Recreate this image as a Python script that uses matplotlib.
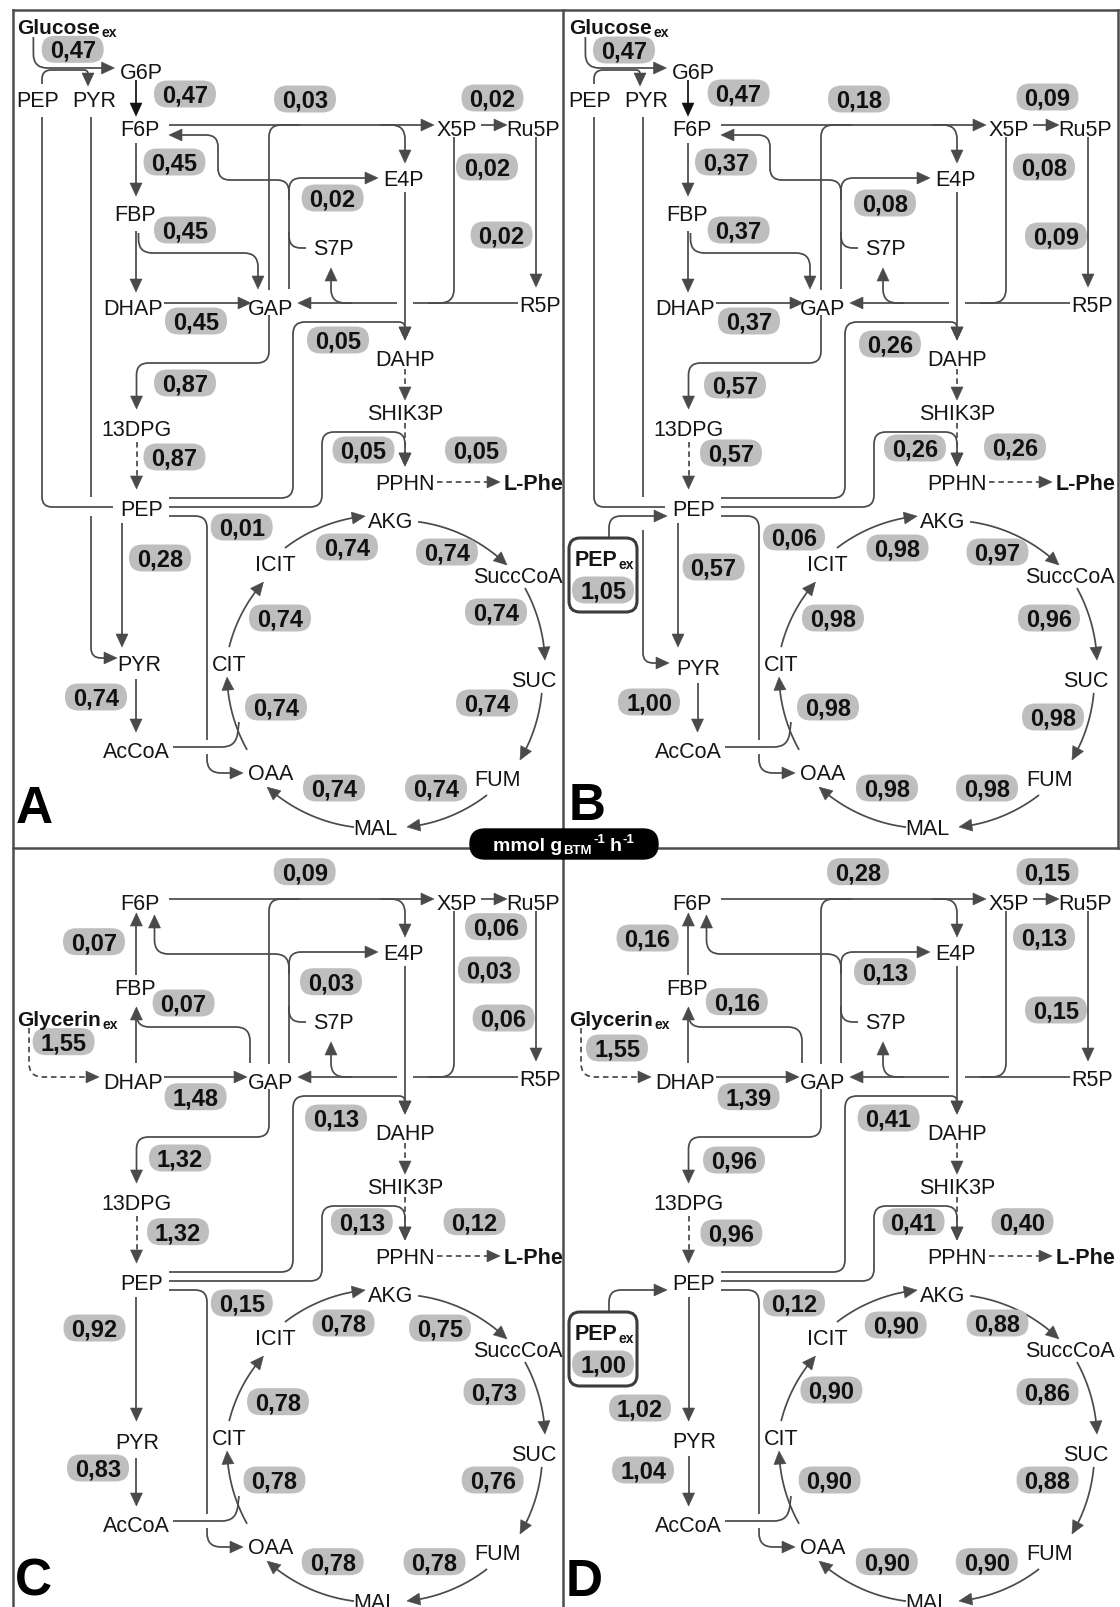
import numpy as np
import matplotlib
matplotlib.use("Agg")
import matplotlib.pyplot as plt
from matplotlib import font_manager
from matplotlib.path import Path
from matplotlib.patches import PathPatch, Polygon, FancyBboxPatch

# ---------------- flux data (mmol g_BTM^-1 h^-1) ----------------
glucose_reactions = ["glc_uptake", "pgi", "tkt_a", "rpe", "pfk", "tkt_b", "tal", "fba", "rpi", "tpi",
                     "dahps", "gapdh", "pgk", "pdt", "phe_out", "ppc", "pyk", "pdh",
                     "cs", "acn", "icd", "kgdh", "sucCD", "sdh", "fum", "mdh"]
flux_A = [0.47, 0.47, 0.03, 0.02, 0.45, 0.02, 0.02, 0.45, 0.02, 0.45,
          0.05, 0.87, 0.87, 0.05, 0.05, 0.01, 0.28, 0.74,
          0.74, 0.74, 0.74, 0.74, 0.74, 0.74, 0.74, 0.74]
flux_B = [0.47, 0.47, 0.18, 0.09, 0.37, 0.08, 0.08, 0.37, 0.09, 0.37,
          0.26, 0.57, 0.57, 0.26, 0.26, 0.06, 0.57, 1.00,
          0.98, 0.98, 0.98, 0.97, 0.96, 0.98, 0.98, 0.98]

glycerol_reactions = ["gly_uptake", "tkt_a", "rpe", "fbp", "tkt_b", "tal", "fba", "rpi", "tpi",
                      "dahps", "gapdh", "pgk", "pdt", "phe_out", "ppc", "pyk", "pdh",
                      "cs", "acn", "icd", "kgdh", "sucCD", "sdh", "fum", "mdh"]
flux_C = [1.55, 0.09, 0.06, 0.07, 0.03, 0.03, 0.07, 0.06, 1.48,
          0.13, 1.32, 1.32, 0.13, 0.12, 0.15, 0.92, 0.83,
          0.78, 0.78, 0.78, 0.75, 0.73, 0.76, 0.78, 0.78]
flux_D = [1.55, 0.28, 0.15, 0.16, 0.13, 0.13, 0.16, 0.15, 1.39,
          0.41, 0.96, 0.96, 0.41, 0.40, 0.12, 1.02, 1.04,
          0.90, 0.90, 0.90, 0.88, 0.86, 0.88, 0.90, 0.90]

pep_uptake_B = 1.05
pep_uptake_D = 1.00

# ---------------- label placement (pixels) ----------------
labels_A = {"glc_uptake": (72.7, 49.3), "pgi": (185, 94), "tkt_a": (305, 99), "rpe": (492.5, 98),
            "pfk": (174.5, 162), "tkt_b": (487, 167), "tal": (332.6, 198), "fba": (185, 230),
            "rpi": (501.6, 235), "tpi": (196, 321), "dahps": (338, 340), "gapdh": (185, 383),
            "pgk": (174.5, 457), "pdt": (363.5, 450), "phe_out": (476, 450), "ppc": (241.7, 527),
            "pyk": (160, 558), "pdh": (96, 697), "icd": (347, 547), "kgdh": (447, 552),
            "acn": (280, 618), "sucCD": (496, 612), "cs": (276, 707), "sdh": (487, 703),
            "mdh": (334, 788), "fum": (436, 788)}
labels_B = {"glc_uptake": (624, 50), "pgi": (738.6, 93), "tkt_a": (859, 99), "rpe": (1047.5, 97),
            "pfk": (726, 162), "tkt_b": (1044, 167), "tal": (885, 203), "fba": (738.6, 230),
            "rpi": (1056, 236), "tpi": (749, 321), "dahps": (890, 344), "gapdh": (735, 385),
            "pgk": (731, 453), "pdt": (915, 448), "phe_out": (1015, 447), "ppc": (794, 537),
            "pyk": (713.6, 567), "pdh": (649, 702), "icd": (897.5, 548), "kgdh": (997.5, 552),
            "acn": (833, 618), "sucCD": (1049, 618), "cs": (828, 707), "sdh": (1053, 717),
            "mdh": (887, 788), "fum": (987, 788)}
labels_C = {"gly_uptake": (63.6, 1041.7), "tkt_a": (304.7, 871.7), "rpe": (496, 926.7),
            "fbp": (94, 941.7), "tkt_b": (489, 970), "tal": (331, 981.7), "fba": (183.6, 1003),
            "rpi": (503.6, 1018), "tpi": (195.6, 1096.7), "dahps": (336, 1118), "gapdh": (180, 1158),
            "pgk": (178, 1231.7), "pdt": (361.8, 1221.7), "phe_out": (474.5, 1221.7),
            "ppc": (241.8, 1303), "pyk": (94.5, 1328), "pdh": (98, 1468), "icd": (343.6, 1323),
            "kgdh": (440, 1328), "acn": (278, 1401.7), "sucCD": (494.5, 1391.7), "cs": (274.5, 1480),
            "sdh": (492.7, 1480), "mdh": (332.7, 1561.7), "fum": (434.5, 1561.7)}
labels_D = {"gly_uptake": (617, 1048), "tkt_a": (858, 871.7), "rpe": (1047.5, 871.7),
            "fbp": (647.5, 938), "tkt_b": (1044, 937), "tal": (885, 971.7), "fba": (736.8, 1001.7),
            "rpi": (1056, 1010), "tpi": (748.6, 1096.7), "dahps": (888.6, 1118), "gapdh": (734, 1160),
            "pgk": (731.4, 1233), "pdt": (913.6, 1221.7), "phe_out": (1022.5, 1221.7),
            "ppc": (794, 1303), "pyk": (640, 1408), "pdh": (643, 1470), "icd": (895.7, 1325),
            "kgdh": (997.5, 1323), "acn": (831.4, 1390), "sucCD": (1047.5, 1391.7), "cs": (829.6, 1480),
            "sdh": (1047.5, 1480), "mdh": (886.8, 1561.7), "fum": (986.8, 1561.7)}

# ---------------- figure ----------------
W, H = 1120, 1607
fig = plt.figure(figsize=(W / 100, H / 100), dpi=100)
ax = fig.add_axes([0, 0, 1, 1])
ax.set_xlim(0, W)
ax.set_ylim(H, 0)
ax.set_axis_off()
renderer = fig.canvas.get_renderer()

installed = {f.name for f in font_manager.fontManager.ttflist}
WIDE = "Liberation Sans"
if "Liberation Sans Narrow" in installed:
    NARROW = "Liberation Sans Narrow"
    NODE_PT, LETTER_PT, SRC_PT, SUB_PT, BADGE_PT, BADGE_SUB = 17, 40, 16, 10.5, 15, 10
else:
    NARROW = WIDE
    NODE_PT, LETTER_PT, SRC_PT, SUB_PT, BADGE_PT, BADGE_SUB = 15.5, 37, 15, 10, 14, 9.5

VAL_PT = 17
CAP = 0.716
LINE = "#4a4a4a"
TXT = "#151515"
PILL = "#bebebe"
FRAME = "#4d4d4d"
LW = 1.25
HL, HW = 13.0, 6.0


def px(pt):
    return pt * 100 / 72


def rounded_path(pts, r):
    pts = [np.asarray(p, float) for p in pts]
    verts = [tuple(pts[0])]
    codes = [Path.MOVETO]
    n = len(pts)
    for i in range(1, n - 1):
        p0, p1, p2 = pts[i - 1], pts[i], pts[i + 1]
        d1 = p1 - p0
        l1 = np.hypot(*d1)
        d2 = p2 - p1
        l2 = np.hypot(*d2)
        a1 = l1 if i == 1 else l1 / 2
        a2 = l2 if i + 1 == n - 1 else l2 / 2
        rr = min(r, a1, a2)
        a = p1 - d1 / l1 * rr
        b = p1 + d2 / l2 * rr
        verts += [tuple(a), tuple(p1), tuple(b)]
        codes += [Path.LINETO, Path.CURVE3, Path.CURVE3]
    verts.append(tuple(pts[-1]))
    codes.append(Path.LINETO)
    return Path(verts, codes)


def head(tip, ux, uy, color):
    bx, by = tip[0] - ux * HL, tip[1] - uy * HL
    tri = [tip, (bx - uy * HW, by + ux * HW), (bx + uy * HW, by - ux * HW)]
    ax.add_patch(Polygon(tri, closed=True, fc=color, ec=color, lw=0.4, zorder=2))


def link(pts, off, r=12, arrow=True, dashed=False, color=LINE):
    dx, dy = off
    pts = [(x + dx, y + dy) for x, y in pts]
    if arrow:
        (x0, y0), (x1, y1) = pts[-2], pts[-1]
        L = np.hypot(x1 - x0, y1 - y0)
        ux, uy = (x1 - x0) / L, (y1 - y0) / L
        head((x1, y1), ux, uy, color)
        pts[-1] = (x1 - ux * (HL - 1), y1 - uy * (HL - 1))
    ls = (0, (3.2, 2.2)) if dashed else "solid"
    ax.add_patch(PathPatch(rounded_path(pts, r), fill=False, ec=color, lw=LW, ls=ls,
                           capstyle="butt", zorder=1))


TCA_C = (384, 673)


def arc(off, a0, a1, r0, r1, color=LINE):
    cx, cy = TCA_C[0] + off[0], TCA_C[1] + off[1]
    da = np.degrees(HL / r1)

    def pt(a):
        f = (a - a0) / (a1 - a0)
        r = r0 + (r1 - r0) * f
        t = np.radians(a)
        return cx + r * np.cos(t), cy + r * np.sin(t)

    angs = np.linspace(a0, a1 - da * 0.92, 50)
    xy = np.array([pt(a) for a in angs])
    ax.plot(xy[:, 0], xy[:, 1], color=color, lw=LW, solid_capstyle="butt", zorder=1)
    tip = pt(a1)
    base = pt(a1 - da)
    L = np.hypot(tip[0] - base[0], tip[1] - base[1])
    head(tip, (tip[0] - base[0]) / L, (tip[1] - base[1]) / L, color)


def node(x, y, s, size=None, weight="normal", ha="center", color=TXT, family=None):
    size = size or NODE_PT
    ax.text(x, y + CAP * px(size) / 2, s, ha=ha, va="baseline", fontsize=size,
            family=family or NARROW, weight=weight, color=color, zorder=5)


def rich(x, y_base, parts, align="left", color=TXT, zorder=5, family=None):
    objs = []
    cursor = 0.0
    for s, size, rise, gap in parts:
        t = ax.text(0, y_base - rise, s, ha="left", va="baseline", fontsize=size,
                    family=family or NARROW, weight="bold", color=color, zorder=zorder)
        w = t.get_window_extent(renderer).width
        objs.append((t, cursor))
        cursor += w + gap
    cursor -= parts[-1][3]
    x0 = x if align == "left" else x - cursor / 2
    for t, o in objs:
        t.set_x(x0 + o)


def fmt(v):
    return f"{v:.2f}".replace(".", ",")


def pill(x, y, v, w=62, h=27):
    ax.add_patch(FancyBboxPatch((x - w / 2, y - h / 2), w, h,
                                boxstyle=f"round,pad=0,rounding_size={h / 2}",
                                fc=PILL, ec="none", zorder=3))
    ax.text(x, y + CAP * px(VAL_PT) / 2, fmt(v), ha="center", va="baseline",
            fontsize=VAL_PT, family=WIDE, weight="bold", color="#101010", zorder=4)


CORE_NODES = [("F6P", 140, 128), ("X5P", 457, 128), ("Ru5P", 533, 128), ("E4P", 403.5, 178),
              ("S7P", 333, 247), ("R5P", 540, 304), ("FBP", 135.5, 213), ("DHAP", 133.5, 307),
              ("GAP", 271, 307), ("DAHP", 405, 358), ("SHIK3P", 405, 412), ("13DPG", 136.5, 428),
              ("PEP", 142, 508), ("PPHN", 405, 482), ("AcCoA", 136.4, 750), ("CIT", 229, 663),
              ("ICIT", 275, 563), ("AKG", 391, 520), ("SuccCoA", 518, 575), ("SUC", 534, 679),
              ("FUM", 498, 778), ("MAL", 375, 827), ("OAA", 271, 772)]

TCA_ARCS = [(150.7, 178.5, 157, 157), (189.5, 217, 157, 151), (231.6, 263.1, 159.5, 158),
            (282.7, 318.7, 155, 163.7), (328.9, 355.4, 164.6, 161.5), (367.2, 392.6, 159, 161.4),
            (409.8, 441.5, 159.7, 155.7), (461, 495.7, 157, 163.4)]


def draw_panel(cfg, reactions, fluxes, label_pos):
    off = cfg["off"]
    dx, dy = off

    # shared network: pentose phosphate, lower glycolysis, aromatics, TCA
    link([(169, 125), (434, 125)], off)
    link([(481, 125), (507, 125)], off)
    link([(536, 137), (536, 287)], off)
    link([(518, 303), (413, 303)], off, arrow=False)
    link([(397, 303), (298, 303)], off)
    link([(454, 137), (454, 303), (428, 303)], off, r=14, arrow=False)
    link([(352, 303), (331, 303), (331, 268)], off, r=14)
    link([(269, 290), (269, 125), (300, 125)], off, r=12, arrow=False)
    link([(380, 125), (405, 125), (405, 163)], off, r=14)
    link([(289, 289), (289, 196)], off, arrow=False)
    link([(306, 248), (289, 248), (289, 232)], off, r=12, arrow=False)
    link([(289, 200), (289, 178), (378, 178)], off, r=12)
    link([(405, 192), (405, 340)], off)
    link([(169, 498), (293, 498), (293, 322), (405, 322), (405, 340)], off, r=12)
    link([(405, 369), (405, 400)], off, dashed=True)
    link([(405, 423), (405, 466)], off, dashed=True)
    link([(169, 507), (322, 507), (322, 432), (405, 432), (405, 466)], off, r=12)
    link([(437, 482), (500, 482)], off, dashed=True)
    link([(169, 516), (207, 516), (207, 740)], off, r=12, arrow=False)
    link([(207, 754), (207, 773), (243, 773)], off, r=14)
    link([(136.5, 442), (136.5, 489)], off, dashed=True)
    link([(269, 315), (269, 363), (136.5, 363), (136.5, 409)], off, r=12)
    link([(cfg["pyk_x"], 523), (cfg["pyk_x"], 647)], off)
    link([(cfg["pdh_x"], cfg["pyr"][1] + 16), (cfg["pdh_x"], 732)], off)
    link([(173, 747), (236, 747), (239, 722)], off, r=14, arrow=False)
    for a0, a1, r0, r1 in TCA_ARCS:
        arc(off, a0, a1, r0, r1)

    if cfg["variant"] == "glc":
        link([(33.4, 37), (33.4, 68), (114.5, 68)], off, r=14)
        link([(42, 84), (42, 70), (88, 70), (88, 86)], off, r=9)
        link([(136, 80), (136, 116)], off, color="#111111")
        link([(136, 143), (136, 196)], off)
        link([(136, 231), (136, 292)], off)
        link([(138.5, 233), (138.5, 253), (258, 253), (258, 289)], off, r=14)
        link([(163.6, 303), (251, 303)], off)
        link([(289, 200), (289, 180), (218, 180), (218, 135), (169, 135)], off, r=12)
        link([(42, 117), (42, 507), (113, 507)], off, r=10, arrow=False)
        g0, g1 = cfg["pyr_gap"]
        link([(91, 117), (91, g0)], off, arrow=False)
        link([(91, g1), (91, cfg["pts_y"]), (117, cfg["pts_y"])], off, r=10)
    else:
        link([(29, 254), (29, 303), (99, 303)], off, r=14, dashed=True)
        link([(136.4, 289), (136.4, 233)], off)
        link([(136.4, 201), (136.4, 139)], off)
        link([(250, 289), (250, 253), (136.4, 253), (136.4, 240)], off, r=14, arrow=False)
        link([(163.6, 303), (247, 303)], off)
        link([(289, 200), (289, 180), (154.5, 180), (154.5, 141)], off, r=14)

    if cfg.get("pep_ex") is not None:
        ax.add_patch(FancyBboxPatch((17 + dx, 538 + dy), 68, 74,
                                    boxstyle="round,pad=0,rounding_size=11",
                                    fc="white", ec="#3c3c3c", lw=2.2, zorder=2))
        link([(57, 538), (57, 516), (115, 516)], off, r=12)
        rich(52 + dx, 566 + dy, [("PEP", NODE_PT, 0, 1), ("ex", SUB_PT, -3, 0)], align="center")
        pill(51 + dx, 590 + dy, cfg["pep_ex"])

    # metabolite names
    for name, x, y in CORE_NODES:
        node(x + dx, y + dy, name)
    node(cfg["pyr"][0] + dx, cfg["pyr"][1] + dy, "PYR")
    node(503.5 + dx, 482 + dy, "L-Phe", weight="bold", ha="left")
    if cfg["variant"] == "glc":
        node(141 + dx, 71 + dy, "G6P")
        node(38 + dx, 99 + dy, "PEP")
        node(94 + dx, 99 + dy, "PYR")
        rich(17.5 + dx, 34 + dy, [("Glucose", SRC_PT, 0, 1), ("ex", SUB_PT, -3, 0)])
    else:
        rich(17.5 + dx, 252 + dy, [("Glycerin", SRC_PT, 0, 1), ("ex", SUB_PT, -3, 0)])

    # flux values
    for key, v in zip(reactions, fluxes):
        x, y = label_pos[key]
        pill(x, y, v)

    lx, ly = cfg["letter"]
    ax.text(lx, ly, cfg["name"], ha="left", va="baseline", fontsize=LETTER_PT,
            family=NARROW, weight="bold", color="black", zorder=5)


panels = [
    (dict(off=(0, 0), variant="glc", pyk_x=122, pyr=(139, 663), pdh_x=136, pts_y=658,
          pyr_gap=(497, 516), name="A", letter=(16, 823)), glucose_reactions, flux_A, labels_A),
    (dict(off=(552, 0), variant="glc", pyk_x=126, pyr=(146.5, 667), pdh_x=145.5, pts_y=663,
          pyr_gap=(497, 530), pep_ex=pep_uptake_B, name="B", letter=(569, 820)),
     glucose_reactions, flux_B, labels_B),
    (dict(off=(0, 774), variant="gly", pyk_x=136.4, pyr=(137, 667.7), pdh_x=136.4,
          name="C", letter=(15, 1596)), glycerol_reactions, flux_C, labels_C),
    (dict(off=(552, 774), variant="gly", pyk_x=136.6, pyr=(142, 666), pdh_x=136.6,
          pep_ex=pep_uptake_D, name="D", letter=(566, 1596)), glycerol_reactions, flux_D, labels_D),
]
for cfg, rx, fx, lp in panels:
    draw_panel(cfg, rx, fx, lp)

# panel frame
fk = dict(color=FRAME, lw=1.8, solid_capstyle="projecting", zorder=6)
ax.plot([12.5, 12.5], [10, H], **fk)
ax.plot([12.5, 1118], [10, 10], **fk)
ax.plot([1118, 1118], [10, 848], **fk)
ax.plot([563, 563], [10, H], **fk)
ax.plot([12.5, 1118], [848, 848], **fk)

# unit badge
ax.add_patch(FancyBboxPatch((470, 829), 188, 30, boxstyle="round,pad=0,rounding_size=15",
                            fc="black", ec="black", zorder=7))
rich(564, 851, [("mmol g", BADGE_PT, 0, 1), ("BTM", BADGE_SUB, -3, 1), ("-1", BADGE_SUB, 8, 5),
                ("h", BADGE_PT, 0, 1), ("-1", BADGE_SUB, 8, 0)],
     align="center", color="white", zorder=8)

fig.savefig("out.png", dpi=100, facecolor="white")
